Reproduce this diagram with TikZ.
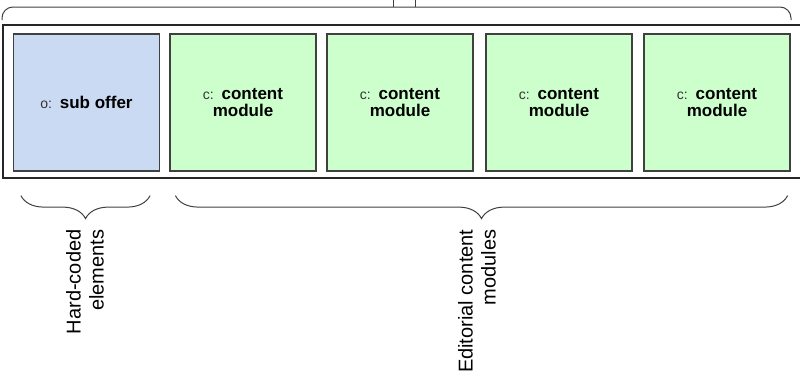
\documentclass[tikz,border=0pt]{standalone}
\usepackage{fontspec}
\setmainfont{Liberation Sans}
\usetikzlibrary{decorations.pathreplacing}
\definecolor{offerblue}{HTML}{CADAF3}
\definecolor{modgreen}{HTML}{CCFFCC}
\definecolor{edgegray}{HTML}{404040}
\tikzset{
  modbox/.style={draw=edgegray, line width=1.2pt, minimum width=146pt, minimum height=137pt,
    inner sep=0pt, align=center, font=\fontsize{17}{17}\selectfont\bfseries},
  offerbox/.style={modbox, fill=offerblue},
  contentbox/.style={modbox, fill=modgreen},
  stripbox/.style={draw=black!85, line width=1.2pt, minimum width=806pt, minimum height=153pt, inner sep=0pt},
  groupbrace/.style={draw=edgegray, line width=1pt, decorate, decoration={brace, mirror, amplitude=23pt}},
  grouplabel/.style={rotate=90, anchor=east, align=right, font=\fontsize{20}{23}\selectfont},
}
\newcommand{\tagtxt}[1]{{\fontsize{14}{14}\selectfont\mdseries\color{black!80}#1}\hspace{1.5pt}}
\begin{document}
\begin{tikzpicture}[x=1pt, y=-1pt]
\clip (0,0) rectangle (800,381);

% brace over the whole strip, cut off by the page edge
\draw[edgegray, line width=1pt, rounded corners=11pt] (2,20) -- (2,7) -- (791,7) -- (791,20);
\draw[edgegray, line width=1pt] (393,7) -- (393,-5) (415,7) -- (415,-5);

\node[stripbox] (strip) at (406,101.5) {};

\node[offerbox] (hc) at (86.5,102.5) {\tagtxt{o:} sub offer};
\node[contentbox] (cm1) at (243,102.5) {\tagtxt{c:} content\\module};
\node[contentbox] (cm2) at (400,102.5) {\tagtxt{c:} content\\module};
\node[contentbox] (cm3) at (559,102.5) {\tagtxt{c:} content\\module};
\node[contentbox] (cm4) at (717,102.5) {\tagtxt{c:} content\\module};

\draw[groupbrace] ([shift={(8pt,-24pt)}]hc.south west) -- ([shift={(-10pt,-24pt)}]hc.south east);
\draw[groupbrace] ([shift={(6pt,-24pt)}]cm1.south west) -- ([shift={(-3pt,-24pt)}]cm4.south east);

\node[grouplabel] (hclbl) at (85,226) {Hard-coded\\elements};
\node[grouplabel] (edlbl) at (477,226) {Editorial content\\modules};
\end{tikzpicture}
\end{document}
